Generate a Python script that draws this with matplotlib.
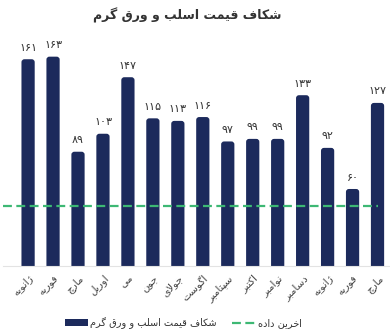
import matplotlib
matplotlib.use("Agg")
import matplotlib.pyplot as plt
from matplotlib.patches import FancyBboxPatch
from matplotlib.lines import Line2D

# data
months = ["ژانویه", "فوریه", "مارچ", "اوریل", "می", "جون", "جولای", "اگوست",
          "سپتامبر", "اکتبر", "نوامبر", "دسامبر", "ژانویه", "فوریه", "مارچ"]
gap_values = [161, 163, 89, 103, 147, 115, 113, 116, 97, 99, 99, 133, 92, 60, 127]
last_data = 47

title = "شکاف قیمت اسلب و ورق گرم"
series_label = "شکاف قیمت اسلب و ورق گرم"
line_label = "اخرین داده"

# --- minimal Persian shaping (no reshaper libs available) ---
FORMS = {
    "ا": (0xFE8D, 0xFE8E, None, None), "آ": (0xFE81, 0xFE82, None, None),
    "ب": (0xFE8F, 0xFE90, 0xFE91, 0xFE92), "پ": (0xFB56, 0xFB57, 0xFB58, 0xFB59),
    "ت": (0xFE95, 0xFE96, 0xFE97, 0xFE98), "ث": (0xFE99, 0xFE9A, 0xFE9B, 0xFE9C),
    "ج": (0xFE9D, 0xFE9E, 0xFE9F, 0xFEA0), "چ": (0xFB7A, 0xFB7B, 0xFB7C, 0xFB7D),
    "ح": (0xFEA1, 0xFEA2, 0xFEA3, 0xFEA4), "خ": (0xFEA5, 0xFEA6, 0xFEA7, 0xFEA8),
    "د": (0xFEA9, 0xFEAA, None, None), "ذ": (0xFEAB, 0xFEAC, None, None),
    "ر": (0xFEAD, 0xFEAE, None, None), "ز": (0xFEAF, 0xFEB0, None, None),
    "ژ": (0xFB8A, 0xFB8B, None, None),
    "س": (0xFEB1, 0xFEB2, 0xFEB3, 0xFEB4), "ش": (0xFEB5, 0xFEB6, 0xFEB7, 0xFEB8),
    "ص": (0xFEB9, 0xFEBA, 0xFEBB, 0xFEBC), "ض": (0xFEBD, 0xFEBE, 0xFEBF, 0xFEC0),
    "ط": (0xFEC1, 0xFEC2, 0xFEC3, 0xFEC4), "ظ": (0xFEC5, 0xFEC6, 0xFEC7, 0xFEC8),
    "ع": (0xFEC9, 0xFECA, 0xFECB, 0xFECC), "غ": (0xFECD, 0xFECE, 0xFECF, 0xFED0),
    "ف": (0xFED1, 0xFED2, 0xFED3, 0xFED4), "ق": (0xFED5, 0xFED6, 0xFED7, 0xFED8),
    "ک": (0xFB8E, 0xFB8F, 0xFB90, 0xFB91), "گ": (0xFB92, 0xFB93, 0xFB94, 0xFB95),
    "ل": (0xFEDD, 0xFEDE, 0xFEDF, 0xFEE0), "م": (0xFEE1, 0xFEE2, 0xFEE3, 0xFEE4),
    "ن": (0xFEE5, 0xFEE6, 0xFEE7, 0xFEE8), "ه": (0xFEE9, 0xFEEA, 0xFEEB, 0xFEEC),
    "و": (0xFEED, 0xFEEE, None, None), "ی": (0xFBFC, 0xFBFD, 0xFBFE, 0xFBFF),
}


def joins_next(c):
    return c in FORMS and FORMS[c][2] is not None


def shape(text):
    chars = list(text)
    out = []
    i = 0
    while i < len(chars):
        c = chars[i]
        prev = chars[i - 1] if i > 0 else None
        nxt = chars[i + 1] if i + 1 < len(chars) else None
        if c not in FORMS:
            out.append(c)
            i += 1
            continue
        link_prev = prev is not None and joins_next(prev)
        if c == "ل" and nxt == "ا":
            out.append(chr(0xFEFC if link_prev else 0xFEFB))
            i += 2
            continue
        link_next = joins_next(c) and nxt in FORMS
        iso, fin, ini, med = FORMS[c]
        if link_prev and link_next:
            code = med
        elif link_prev:
            code = fin
        elif link_next:
            code = ini
        else:
            code = iso
        out.append(chr(code))
        i += 1
    return "".join(reversed(out))


def fa_digits(n):
    return str(n).translate(str.maketrans("0123456789", "۰۱۲۳۴۵۶۷۸۹"))


navy = "#1c2a5c"
green = "#3db874"

plt.rcParams["font.family"] = ["DejaVu Sans"]
fig = plt.figure(figsize=(3.9, 3.33), dpi=100)
ax = fig.add_axes([0.008, 0.201, 0.992, 0.679])

x = list(range(len(gap_values)))
bars = ax.bar(x, gap_values, width=0.53, color=navy)

# swap plain bars for rounded ones
for b in bars:
    b.set_visible(False)
    rb = FancyBboxPatch((b.get_x(), -6), b.get_width(), b.get_height() + 6,
                        boxstyle="round,pad=0,rounding_size=0.12",
                        mutation_aspect=19, facecolor=navy, edgecolor="none")
    ax.add_patch(rb)

for xi, v in zip(x, gap_values):
    ax.text(xi, v + 5, fa_digits(v), ha="center", va="bottom",
            fontsize=8, color="#333333")

ax.hlines(last_data, x[0] - 1, x[-1], colors=green, linestyles=(0, (4, 2)),
          linewidth=1.6, zorder=3)

ax.set_xlim(-1.0, 14.5)
ax.set_ylim(0, 176)
ax.set_xticks(x)
ax.set_xticklabels([shape(m) for m in months], rotation=45, ha="right",
                   rotation_mode="anchor", fontsize=7.5, color="#444444")
ax.tick_params(axis="x", length=0, pad=5)
ax.set_yticks([])
for s in ["top", "left", "right"]:
    ax.spines[s].set_visible(False)
ax.spines["bottom"].set_color("#e3e3e3")

fig.text(0.48, 0.955, shape(title), ha="center", va="center",
         fontsize=9, fontweight="bold", color="#333333")

handles = [
    FancyBboxPatch((0, 0), 1, 1, boxstyle="round,pad=0", facecolor=navy,
                   edgecolor="none"),
    Line2D([0], [0], color=green, linestyle=(0, (4, 2)), linewidth=1.6),
]
fig.legend(handles, [shape(series_label), shape(line_label)], loc="center",
           bbox_to_anchor=(0.47, 0.03), ncol=2, frameon=False, fontsize=7,
           handlelength=2.4, handletextpad=0.2, columnspacing=1.6,
           labelcolor="#333333")

fig.savefig("out.png", dpi=100)
